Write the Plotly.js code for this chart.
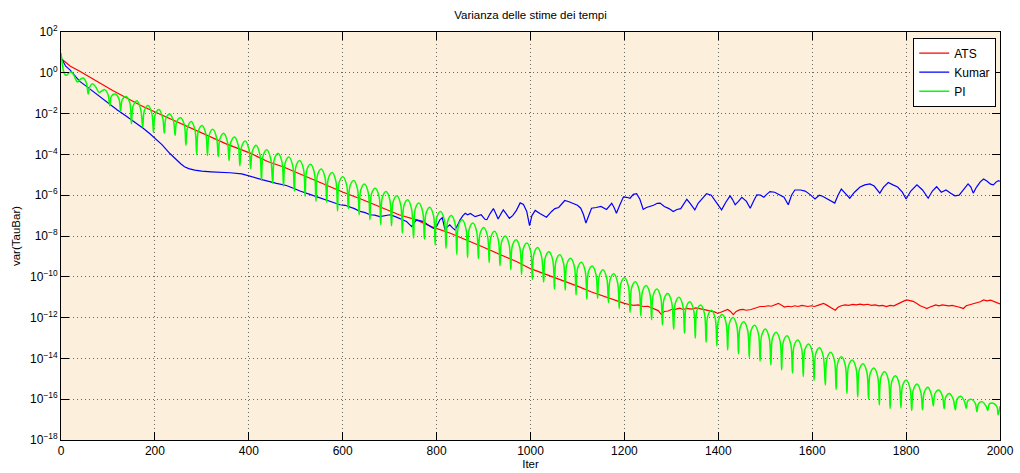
<!DOCTYPE html>
<html><head><meta charset="utf-8">
<script src="https://cdn.plot.ly/plotly-3.0.1.min.js"></script>
<style>html,body{margin:0;padding:0;background:#fff;}#chart{width:1020px;height:473px;}</style>
</head><body><div id="chart"></div>
<script>
const seriesNames = ['ATS', 'Kumar', 'PI'];

const atsIter = [0,10,20,40,60,83,110,140,170,204,240,282,320,353,403,440,474,510,545,570,601,640,686,720,757,790,828,860,900,940,970,1000,1030,1060,1100,1130,1160,1185,1200,1210,1220,1230,1240,1250,1258,1265,1272,1279,1285,1293,1300,1310,1318,1325,1333,1343,1352,1360,1370,1378,1385,1392,1399,1406,1413,1420,1426,1432,1438,1445,1452,1460,1470,1478,1489,1498,1506,1513,1520,1528,1535,1541,1548,1556,1563,1570,1578,1585,1591,1598,1605,1612,1618,1624,1630,1637,1643,1649,1655,1662,1670,1678,1686,1694,1702,1710,1718,1726,1734,1742,1750,1758,1766,1774,1782,1790,1796,1801,1808,1815,1822,1830,1838,1844,1850,1856,1863,1870,1877,1884,1891,1898,1905,1912,1918,1922,1928,1935,1942,1950,1958,1965,1972,1980,1986,1993,2000];
const atsVal = [5.0,3.2,2.1,1.2,0.63,0.32,0.135,5.8e-2,2.5e-2,1.1e-2,4.7e-3,1.6e-3,6.8e-4,3.2e-4,1.15e-4,4.5e-5,2.4e-5,1.05e-5,4.7e-6,2.8e-6,1.4e-6,6.3e-7,2.3e-7,1.1e-7,6.2e-8,2.8e-8,1.4e-8,7.1e-9,2.8e-9,1.1e-9,5.6e-10,2.5e-10,1.4e-10,7.9e-11,3.5e-11,1.8e-11,1.05e-11,6.3e-12,5.0e-12,4.4e-12,4.0e-12,4.2e-12,3.5e-12,3.6e-12,3.0e-12,2.8e-12,2.2e-12,1.4e-12,2.0e-12,2.1e-12,2.5e-12,2.6e-12,2.9e-12,2.5e-12,2.8e-12,2.6e-12,3.0e-12,2.75e-12,2.5e-12,2.3e-12,2.2e-12,1.9e-12,1.6e-12,1.9e-12,2.1e-12,2.5e-12,2.0e-12,1.4e-12,2.0e-12,2.4e-12,2.5e-12,2.3e-12,2.5e-12,2.8e-12,3.5e-12,3.5e-12,3.8e-12,3.6e-12,4.2e-12,5.0e-12,4.0e-12,3.3e-12,3.6e-12,3.4e-12,3.8e-12,3.5e-12,4.0e-12,3.7e-12,3.5e-12,3.8e-12,3.5e-12,4.0e-12,4.4e-12,5.0e-12,4.2e-12,3.5e-12,2.8e-12,2.3e-12,3.2e-12,3.8e-12,4.2e-12,4.0e-12,4.4e-12,4.2e-12,4.6e-12,4.2e-12,4.5e-12,4.0e-12,4.2e-12,3.8e-12,4.0e-12,3.5e-12,4.0e-12,3.8e-12,4.5e-12,5.6e-12,6.6e-12,7.4e-12,6.6e-12,6.3e-12,5.0e-12,3.8e-12,3.2e-12,2.75e-12,3.2e-12,3.6e-12,4.2e-12,3.8e-12,4.2e-12,4.0e-12,3.8e-12,4.0e-12,3.5e-12,3.3e-12,3.0e-12,2.8e-12,3.8e-12,4.2e-12,4.7e-12,5.0e-12,6.0e-12,7.4e-12,6.6e-12,7.1e-12,6.3e-12,5.6e-12,4.7e-12];

const kumarIter = [0,5,10,19,30,40,55,69,85,104,120,140,160,175,190,204,215,232,245,255,263,272,285,300,320,340,360,385,402,430,459,480,495,509,530,545,566,580,594,605,616,625,637,648,658,668,679,690,701,712,725,736,747,752,758,765,772,782,793,800,807,812,818,823,828,834,839,845,850,856,861,866,872,882,890,895,903,907,914,921,926,931,936,942,948,955,962,970,978,985,992,998,1003,1010,1020,1034,1045,1052,1060,1066,1073,1082,1091,1100,1107,1113,1118,1124,1130,1140,1150,1162,1168,1173,1178,1183,1190,1198,1205,1212,1219,1226,1233,1240,1247,1255,1262,1270,1276,1285,1295,1304,1312,1320,1326,1333,1340,1350,1357,1365,1375,1385,1395,1407,1416,1425,1430,1436,1443,1450,1460,1468,1475,1482,1490,1497,1503,1510,1520,1530,1540,1549,1556,1563,1575,1585,1595,1606,1615,1622,1630,1640,1648,1655,1662,1670,1680,1690,1702,1712,1723,1732,1744,1752,1762,1772,1782,1792,1800,1810,1823,1835,1847,1856,1865,1875,1885,1895,1904,1913,1922,1932,1938,1943,1950,1958,1965,1972,1980,1986,1992,1997,2000];
const kumarVal = [5.6,3.2,2.1,1.4,0.71,0.38,0.21,0.12,6.3e-2,2.7e-2,1.5e-2,7.2e-3,3.5e-3,1.9e-3,1.0e-3,5.2e-4,3.0e-4,1.1e-4,5.6e-5,3.5e-5,2.5e-5,2.0e-5,1.7e-5,1.5e-5,1.4e-5,1.35e-5,1.26e-5,1.1e-5,8.3e-6,5.6e-6,3.8e-6,3.0e-6,2.2e-6,1.6e-6,1.1e-6,8.5e-7,5.9e-7,4.5e-7,3.4e-7,3.2e-7,2.6e-7,2.2e-7,1.6e-7,1.4e-7,1.1e-7,1.05e-7,8.9e-8,1.0e-7,1.1e-7,8.9e-8,6.9e-8,5.1e-8,2.9e-8,4.5e-8,6.2e-8,5.6e-8,5.1e-8,3.5e-8,2.4e-8,2.9e-8,6.2e-8,7.9e-8,2.0e-8,2.8e-8,3.5e-8,2.5e-8,2.0e-8,3.5e-8,6.2e-8,1.0e-7,1.3e-7,1.1e-7,1.26e-7,8.9e-8,1.05e-7,1.1e-7,6.6e-8,6.3e-8,1.26e-7,2.2e-7,1.26e-7,6.8e-8,1.1e-7,1.9e-7,1.26e-7,7.4e-8,1.0e-7,1.8e-7,4.2e-7,3.5e-7,1.6e-7,3.2e-8,1.0e-7,1.8e-7,1.26e-7,8.3e-8,1.6e-7,2.2e-7,2.5e-7,3.5e-7,5.5e-7,4.8e-7,4.1e-7,3.2e-7,2.3e-7,1.1e-7,4.3e-8,1.0e-7,2.3e-7,2.5e-7,2.8e-7,2.0e-7,2.8e-7,4.0e-7,2.5e-7,1.3e-7,3.2e-7,8.3e-7,7.9e-7,7.1e-7,1.1e-6,1.2e-6,6.3e-7,2.0e-7,2.5e-7,2.8e-7,3.2e-7,4.0e-7,4.1e-7,2.8e-7,2.2e-7,1.6e-7,2.0e-7,2.2e-7,3.5e-7,6.3e-7,4.0e-7,1.9e-7,4.0e-7,6.3e-7,1.2e-6,1.0e-6,5.0e-7,1.9e-7,4.5e-7,9.3e-7,6.3e-7,3.4e-7,5.0e-7,7.9e-7,5.0e-7,2.3e-7,5.0e-7,1.05e-6,1.0e-6,7.9e-7,1.1e-6,1.5e-6,1.4e-6,1.1e-6,7.9e-7,3.4e-7,1.0e-6,1.8e-6,1.8e-6,1.6e-6,1.1e-6,6.5e-7,1.0e-6,8.9e-7,7.1e-7,5.0e-7,4.1e-7,1.0e-6,2.0e-6,1.26e-6,7.1e-7,1.4e-6,2.5e-6,3.2e-6,3.6e-6,2.8e-6,1.26e-6,2.5e-6,4.2e-6,3.2e-6,2.5e-6,1.4e-6,6.5e-7,1.6e-6,3.2e-6,1.8e-6,7.1e-7,1.6e-6,2.6e-6,1.4e-6,1.8e-6,1.26e-6,9.3e-7,1.0e-6,1.8e-6,3.6e-6,2.5e-6,1.26e-6,2.5e-6,4.5e-6,6.2e-6,5.0e-6,3.5e-6,3.2e-6,4.5e-6,5.2e-6,4.8e-6];

const piIter = [0,2,5,9,12,17,22,28,35,40,47,54,58,61,67,74,81,87,93,100,
104,107.5,115.5,123.5,127,130.5,138.5,146.5,150,153.5,161.5,169.5,174,177.5,185.5,193.5,
197,200.5,208.5,216.5,220,223.5,231.5,239.5,243,246.5,254.5,262.5,266,269.5,277.5,285.5,
289,292.5,300.5,308.5,312,315.5,323.5,331.5,335,338.5,346.5,354.5,358,361.5,369.5,377.5,
381,384.5,392.5,400.5,404,407.5,415.5,423.5,427,430.5,438.5,446.5,451,454.5,462.5,470.5,
474,477.5,485.5,493.5,497,500.5,508.5,516.5,520,523.5,531.5,539.5,543,546.5,554.5,562.5,
566,569.5,577.5,585.5,589,592.5,600.5,608.5,612,615.5,623.5,631.5,635,638.5,646.5,654.5,
658,661.5,669.5,677.5,681,684.5,692.5,700.5,704,707.5,715.5,723.5,727,730.5,738.5,746.5,
751,754.5,762.5,770.5,774,777.5,785.5,793.5,797,800.5,808.5,816.5,820,823.5,831.5,839.5,
843,846.5,854.5,862.5,866,869.5,877.5,885.5,889,892.5,900.5,908.5,912,915.5,923.5,931.5,
935,938.5,946.5,954.5,958,961.5,969.5,977.5,981,984.5,992.5,1000.5,1004,1007.5,1015.5,1023.5,
1028,1031.5,1039.5,1047.5,1051,1054.5,1062.5,1070.5,1074,1077.5,1085.5,1093.5,1097,1100.5,1108.5,1116.5,
1120,1123.5,1131.5,1139.5,1143,1146.5,1154.5,1162.5,1166,1169.5,1177.5,1185.5,1189,1192.5,1200.5,1208.5,
1212,1215.5,1223.5,1231.5,1235,1238.5,1246.5,1254.5,1258,1261.5,1269.5,1277.5,1281,1284.5,1292.5,1300.5,
1305,1308.5,1316.5,1324.5,1328,1331.5,1339.5,1347.5,1351,1354.5,1362.5,1370.5,1374,1377.5,1385.5,1393.5,
1397,1400.5,1408.5,1416.5,1420,1423.5,1431.5,1439.5,1443,1446.5,1454.5,1462.5,1466,1469.5,1477.5,1485.5,
1489,1492.5,1500.5,1508.5,1512,1515.5,1523.5,1531.5,1535,1538.5,1546.5,1554.5,1558,1561.5,1569.5,1577.5,
1581,1584.5,1592.5,1600.5,1604,1607.5,1615.5,1623.5,1628,1631.5,1639.5,1647.5,1651,1654.5,1662.5,1670.5,
1674,1677.5,1685.5,1693.5,1697,1700.5,1708.5,1716.5,1720,1723.5,1731.5,1739.5,1743,1746.5,1754.5,1762.5,
1766,1769.5,1777.5,1785.5,1789,1792.5,1800.5,1808.5,1812,1815.5,1823.5,1831.5,1835,1838.5,1846.5,1854.5,
1858,1861.5,1869.5,1877.5,1881,1884.5,1892.5,1900.5,1905,1908.5,1916.5,1924.5,1928,1931.5,1939.5,1947.5,
1951,1954.5,1962.5,1970.5,1974,1977.5,1985.5,1993.5,1996,2000];
const piVal = [9.3,4.0,1.3,0.79,0.76,1.0,1.1,0.71,0.35,0.45,0.55,0.32,0.091,0.2,0.29,0.2,0.11,0.13,0.15,0.089,
2.4e-2,7.2e-2,9.1e-2,5.2e-2,1.3e-2,4.9e-2,6.9e-2,3.5e-2,3.2e-3,2.3e-2,4.3e-2,1.7e-2,2.2e-3,1.4e-2,2.5e-2,1.0e-2,
1.2e-3,8.7e-3,1.6e-2,6.3e-3,1.1e-3,5.9e-3,9.5e-3,4.3e-3,8.5e-4,4.1e-3,6.3e-3,3.0e-3,2.8e-4,2.1e-3,4.1e-3,1.5e-3,
1.0e-4,1.4e-3,2.6e-3,1.0e-3,8.9e-5,8.7e-4,1.7e-3,6.3e-4,7.9e-5,5.8e-4,1.1e-3,4.2e-4,5.0e-5,3.8e-4,7.2e-4,2.8e-4,
2.8e-5,2.3e-4,4.5e-4,1.7e-4,2.0e-5,1.4e-4,2.8e-4,1.0e-4,5.4e-6,8.7e-5,1.7e-4,6.3e-5,3.9e-6,6.0e-5,1.1e-4,4.4e-5,
2.8e-6,3.9e-5,7.4e-5,2.8e-5,1.6e-6,2.6e-5,5.0e-5,1.9e-5,8.9e-7,1.7e-5,3.3e-5,1.3e-5,5.0e-7,1.0e-5,1.9e-5,7.2e-6,
4.5e-7,6.8e-6,1.3e-5,4.9e-6,1.7e-7,4.3e-6,8.1e-6,3.1e-6,2.2e-7,2.8e-6,5.2e-6,2.0e-6,1.1e-7,1.8e-6,3.5e-6,1.3e-6,
6.3e-8,1.2e-6,2.2e-6,8.5e-7,3.5e-8,7.9e-7,1.5e-6,5.8e-7,3.2e-8,4.9e-7,9.3e-7,3.5e-7,1.4e-8,3.1e-7,5.9e-7,2.2e-7,
7.9e-9,2.1e-7,4.1e-7,1.5e-7,7.1e-9,1.3e-7,2.6e-7,9.8e-8,3.6e-9,8.3e-8,1.6e-7,6.0e-8,2.5e-9,5.2e-8,1.0e-7,3.8e-8,
1.3e-9,3.2e-8,6.2e-8,2.3e-8,8.9e-10,2.2e-8,4.3e-8,1.6e-8,7.9e-10,1.3e-8,2.6e-8,9.8e-9,5.0e-10,8.7e-9,1.7e-8,6.3e-9,
3.5e-10,5.2e-9,1.0e-8,3.8e-9,2.2e-10,3.4e-9,6.5e-9,2.5e-9,1.3e-10,2.3e-9,4.5e-9,1.7e-9,7.4e-11,1.4e-9,2.7e-9,1.0e-9,
5.5e-11,8.9e-10,1.7e-9,6.5e-10,2.5e-11,6.2e-10,1.2e-9,4.5e-10,2.2e-11,4.3e-10,8.1e-10,3.1e-10,1.3e-11,2.7e-10,5.1e-10,1.9e-10,
7.9e-12,1.8e-10,3.4e-10,1.3e-10,8.9e-12,1.1e-10,2.2e-10,8.3e-11,5.5e-12,7.2e-11,1.4e-10,5.2e-11,2.8e-12,4.8e-11,9.1e-11,3.5e-11,
1.8e-12,3.0e-11,5.8e-11,2.2e-11,1.2e-12,1.9e-11,3.7e-11,1.4e-11,7.9e-13,1.3e-11,2.5e-11,9.3e-12,4.4e-13,8.1e-12,1.5e-11,5.9e-12,
2.7e-13,5.2e-12,1.0e-11,3.8e-12,1.7e-13,3.2e-12,6.0e-12,2.3e-12,1.0e-13,2.2e-12,4.2e-12,1.6e-12,6.2e-14,1.2e-12,2.3e-12,8.9e-13,
4.1e-14,7.6e-13,1.4e-12,5.5e-13,2.6e-14,5.2e-13,1.0e-12,3.8e-13,1.7e-14,3.3e-13,6.3e-13,2.4e-13,1.1e-14,2.2e-13,4.2e-13,1.6e-13,
7.4e-15,1.4e-13,2.8e-13,1.0e-13,4.7e-15,1.0e-13,1.9e-13,7.2e-14,2.7e-15,6.6e-14,1.3e-13,4.8e-14,1.9e-15,4.2e-14,7.9e-14,3.0e-14,
1.3e-15,2.7e-14,5.1e-14,1.9e-14,8.3e-16,1.7e-14,3.3e-14,1.3e-14,5.0e-16,1.0e-14,2.0e-14,7.6e-15,3.0e-16,6.3e-15,1.2e-14,4.6e-15,
1.9e-16,4.4e-15,8.3e-15,3.2e-15,1.3e-16,2.9e-15,5.5e-15,2.1e-15,1.0e-16,1.8e-15,3.4e-15,1.3e-15,5.2e-17,1.2e-15,2.2e-15,8.5e-16,
3.5e-17,7.4e-16,1.4e-15,5.4e-16,3.8e-17,4.6e-16,8.7e-16,3.3e-16,2.8e-17,2.9e-16,5.5e-16,2.1e-16,3.0e-17,2.1e-16,3.8e-16,1.5e-16,
4.7e-17,1.9e-16,2.8e-16,1.4e-16,3.4e-17,1.3e-16,1.9e-16,9.8e-17,3.0e-17,1.0e-16,1.4e-16,7.6e-17,3.5e-17,8.5e-17,9.8e-17,6.2e-17,
2.4e-17,6.2e-17,7.4e-17,4.5e-17,2.8e-17,5.9e-17,6.3e-17,4.3e-17,1.7e-17,4.5e-17];

const xTickVals = [0,200,400,600,800,1000,1200,1400,1600,1800,2000];
const yTickVals = [1e-18,1e-16,1e-14,1e-12,1e-10,1e-8,1e-6,1e-4,1e-2,1e0,1e2];
const yTickText = ['10<sup>\u221218</sup>','10<sup>\u221216</sup>','10<sup>\u221214</sup>','10<sup>\u221212</sup>','10<sup>\u221210</sup>','10<sup>\u22128</sup>','10<sup>\u22126</sup>','10<sup>\u22124</sup>','10<sup>\u22122</sup>','10<sup>0</sup>','10<sup>2</sup>'];

const traces = [
  {x: atsIter, y: atsVal, name: seriesNames[0], type: 'scatter', mode: 'lines', line: {color: '#ff0000', width: 1.2}},
  {x: kumarIter, y: kumarVal, name: seriesNames[1], type: 'scatter', mode: 'lines', line: {color: '#0000ff', width: 1.2}},
  {x: piIter, y: piVal, name: seriesNames[2], type: 'scatter', mode: 'lines', line: {color: '#00ff00', width: 1.5, shape: 'spline', smoothing: 1}}
];

const axisCommon = {
  showline: true, linecolor: '#000', linewidth: 1, mirror: 'ticks',
  ticks: 'inside', ticklen: 8, tickcolor: '#000', tickwidth: 1,
  showgrid: true, gridcolor: 'rgba(60,60,60,0.75)', gridwidth: 1, griddash: '1px,3px',
  zeroline: false, tickfont: {size: 12, color: '#000'}
};

const layout = {
  width: 1020, height: 473,
  margin: {l: 61, r: 20, t: 32, b: 33, pad: 0},
  paper_bgcolor: '#ffffff', plot_bgcolor: '#fcefdc',
  font: {family: 'Liberation Sans, Arial, Helvetica, sans-serif', size: 12, color: '#000'},
  title: {text: 'Varianza delle stime dei tempi', font: {size: 11.5, color: '#000'}, x: 0.5, xref: 'paper', xanchor: 'center', y: 0.968, yref: 'container', yanchor: 'middle'},
  showlegend: true,
  legend: {x: 0.996, xanchor: 'right', y: 0.986, yanchor: 'top', bgcolor: '#ffffff', bordercolor: '#000', borderwidth: 1, font: {size: 12}, tracegroupgap: 0},
  xaxis: Object.assign({}, axisCommon, {range: [0, 2000], tickmode: 'array', tickvals: xTickVals, title: {text: 'Iter', font: {size: 11.5}, standoff: 2}}),
  yaxis: Object.assign({}, axisCommon, {type: 'log', range: [-18, 2], tickmode: 'array', tickvals: yTickVals, ticktext: yTickText, title: {text: 'var(TauBar)', font: {size: 11.5}, standoff: 6}})
};

Plotly.newPlot('chart', traces, layout, {staticPlot: true, displayModeBar: false});
</script>
</body></html>
